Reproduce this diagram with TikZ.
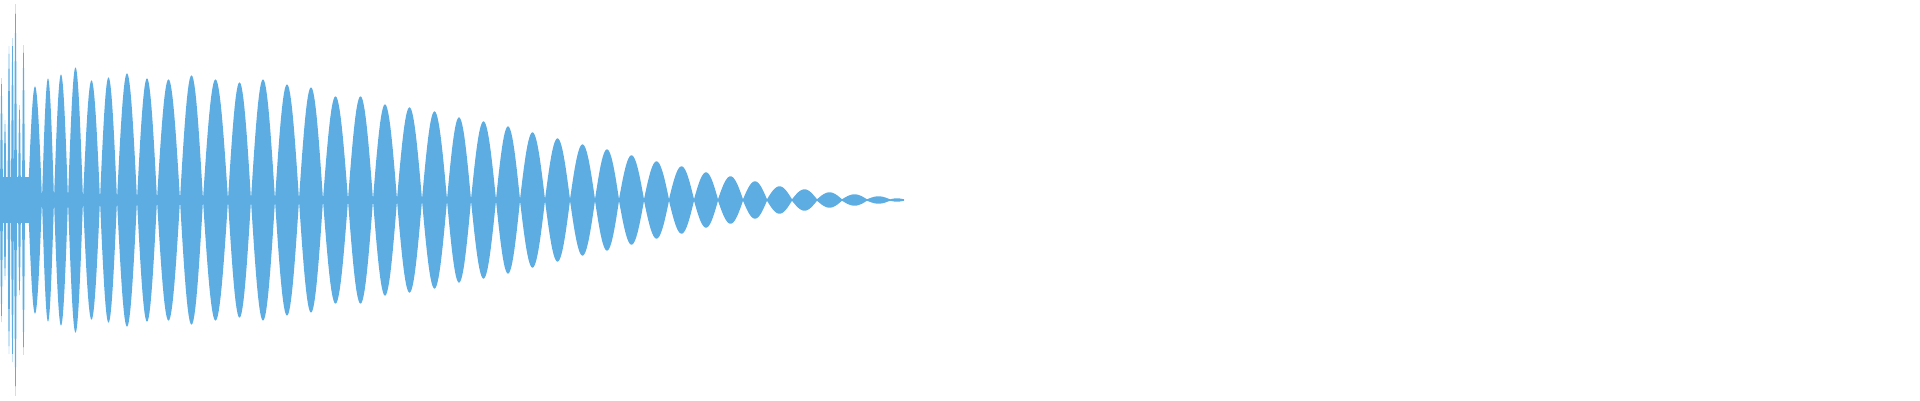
\documentclass[tikz,border=0pt]{standalone}
\usepackage{tikz}

\begin{document}
\begin{tikzpicture}[x=1pt,y=1pt]
    % Colors
    \definecolor{wave}{RGB}{93,173,226}
    \tikzset{lobe/.style={fill=wave, draw=none}}

    % Canvas
    \useasboundingbox (0,-200) rectangle (1920,200);

    % Attack: dense spikes over a thin band
    \fill[lobe] (0,-23) rectangle (29,23);
    \foreach \xa/\xb/\amp in {0/3/122, 3.5/6.5/80, 7.5/10.5/154, 11/14/162, 14/17/196, 18/21/95, 22/25/155}
      \fill[lobe] plot[domain=0:180, samples=9] ({\xa+(\xb-\xa)*\x/180},{\amp*sin(\x)})
        -- plot[domain=180:0, samples=9] ({\xa+(\xb-\xa)*\x/180},{-\amp*sin(\x)}) -- cycle;

    % Decaying lobes
    \foreach \xa/\xb/\amp in {28/42/113, 42/54/121, 54/68/125, 68/83/132, 83/100/119,
        100/117/122, 117/137/126, 137/157/121, 157/180/120, 180/203/124,
        203/228/120, 228/251/117, 251/275/120, 275/299/115, 299/323/112,
        323/348/103, 348/373/103, 373/397/95, 397/422/92, 422/447/88,
        447/471/82, 471/496/78, 496/520/73, 520/545/67, 545/570/61,
        570/595/55, 595/619/50, 619/644/44, 644/669/38, 669/694/33,
        694/718/27, 718/743/23, 743/767/18, 767/792/13, 792/817/10,
        817/842/7, 842/867/5, 867/890/3, 890/904/1}
      \fill[lobe] plot[domain=0:180, samples=25] ({\xa+(\xb-\xa)*\x/180},{\amp*sin(\x)+0.7})
        -- plot[domain=180:0, samples=25] ({\xa+(\xb-\xa)*\x/180},{-\amp*sin(\x)-0.7}) -- cycle;
\end{tikzpicture}
\end{document}
